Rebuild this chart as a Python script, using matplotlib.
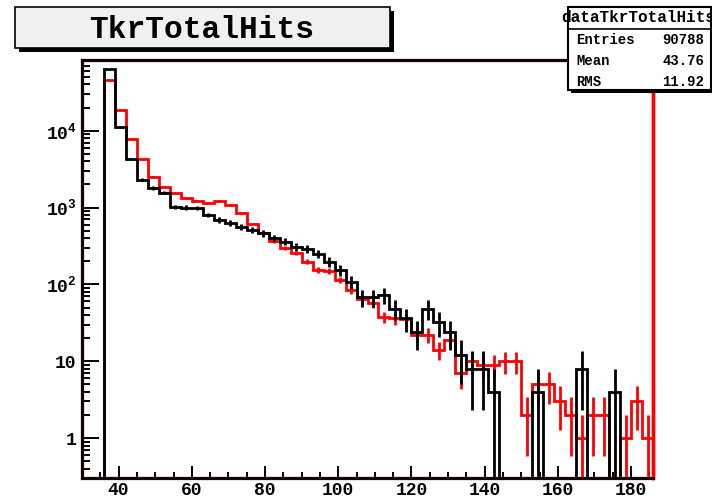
import numpy as np
import matplotlib
matplotlib.use("Agg")
import matplotlib.pyplot as plt
from matplotlib.patches import Rectangle
from matplotlib.lines import Line2D
from matplotlib.ticker import FixedLocator, FixedFormatter, NullFormatter

plt.rcParams['font.family'] = ['Liberation Mono', 'DejaVu Sans Mono']
plt.rcParams['font.weight'] = 'bold'
plt.rcParams['mathtext.fontset'] = 'custom'
plt.rcParams['mathtext.rm'] = 'Liberation Mono:bold'
plt.rcParams['mathtext.bf'] = 'Liberation Mono:bold'
plt.rcParams['mathtext.it'] = 'Liberation Mono:bold'

# ---- data ----
bin_edges = list(range(30, 187, 3))   # 52 bins of width 3 from 30 to 186

data_counts = [0, 0, 63000, 11000, 4260, 2290, 1800, 1560, 1020, 1000,
               980, 800, 690, 630, 565, 510, 460, 405, 360, 310,
               287, 250, 198, 154, 109, 68, 68, 72, 48, 36,
               24, 48, 32, 24, 12, 8, 8, 4, 0, 0,
               0, 4, 0, 0, 0, 8, 0, 0, 4, 0,
               0, 0]

mc_counts = [0, 0, 46000, 18600, 7900, 4260, 2500, 1870, 1560, 1320,
             1230, 1160, 1230, 1080, 845, 612, 463, 365, 296, 254,
             198, 155, 150, 115, 85, 64, 57, 38, 36, 35,
             22, 22, 14, 19, 7, 10, 9, 9, 10, 10,
             2, 5, 5, 3, 2, 1, 2, 2, 0, 1,
             3, 1]

data_scale = 4.0   # data entries appear weighted x4 (errors 2*sqrt(n))
mc_scale = 1.0

x_major = [40, 60, 80, 100, 120, 140, 160, 180]
y_major = [1, 10, 100, 1000, 10000]
y_major_labels = ['1', '10', r'$\mathrm{10^{2}}$', r'$\mathrm{10^{3}}$', r'$\mathrm{10^{4}}$']

title = 'TkrTotalHits'
stats_name = 'dataTkrTotalHits'
stats_rows = [('Entries', '90788'), ('Mean', '43.76'), ('RMS', '11.92')]

# ---- figure ----
W, H = 712, 499
fig = plt.figure(figsize=(W / 100, H / 100), dpi=100)

def fx(px):
    return px / W

def fy(py):
    return 1 - py / H

ax_left, ax_right, ax_top, ax_bottom = 82, 653, 60, 478.3
ax = fig.add_axes([fx(ax_left), fy(ax_bottom), (ax_right - ax_left) / W, (ax_bottom - ax_top) / H])
ax.set_yscale('log')
ax.set_xlim(bin_edges[0], bin_edges[-1])
ax.set_ylim(0.3, 8.3e4)

edges = np.array(bin_edges, float)
centers = 0.5 * (edges[:-1] + edges[1:])
floor = 1e-3

def draw_hist(vals, scale, color, z):
    v = np.array(vals, float)
    vv = np.where(v > 0, v, floor)
    ax.stairs(vv, edges, color=color, lw=2, baseline=None, zorder=z)
    err = np.sqrt(scale * v)
    m = v > 0
    lo = np.maximum(v - err, floor)
    hi = v + err
    ax.vlines(centers[m], lo[m], hi[m], color=color, lw=2, zorder=z)

draw_hist(mc_counts, mc_scale, 'red', 3)
draw_hist(data_counts, data_scale, 'black', 4)

# ticks
ax.xaxis.set_major_locator(FixedLocator(x_major))
ax.xaxis.set_minor_locator(FixedLocator([v for v in range(30, 186, 5) if v not in x_major]))
ax.yaxis.set_major_locator(FixedLocator(y_major))
ax.yaxis.set_major_formatter(FixedFormatter(y_major_labels))
yminor = [m * 10.0 ** e for e in range(-1, 5) for m in range(2, 10)]
yminor = [v for v in yminor if 0.3 <= v <= 8.3e4]
ax.yaxis.set_minor_locator(FixedLocator(yminor))
ax.yaxis.set_minor_formatter(NullFormatter())

ax.tick_params(axis='x', which='major', direction='in', length=8.5, width=1.4,
               top=False, labelsize=13, pad=3)
ax.tick_params(axis='x', which='minor', direction='in', length=4, width=1.4, top=False)
ax.tick_params(axis='y', which='major', direction='in', length=12.5, width=1.4,
               right=False, labelsize=13, pad=4)
ax.tick_params(axis='y', which='minor', direction='in', length=6, width=1.4, right=False)

for s in ['left', 'bottom', 'top']:
    ax.spines[s].set_color('black')
    ax.spines[s].set_linewidth(2.0)
    ax.spines[s].set_zorder(6)
ax.spines['right'].set_color('red')
ax.spines['right'].set_linewidth(2.5)
ax.spines['right'].set_zorder(6)
ax.add_patch(Rectangle((0, 0), 1, 1, transform=ax.transAxes, fill=False,
                       edgecolor='#cc2222', lw=2.4, zorder=5, clip_on=False))

# ---- title box ----
tx0, ty0, tx1, ty1 = 15, 6.7, 390, 48
fig.add_artist(Rectangle((fx(tx0 + 4), fy(ty1 + 4)), (tx1 - tx0) / W, (ty1 - ty0) / H,
                         transform=fig.transFigure, facecolor='black', edgecolor='black', lw=0))
fig.add_artist(Rectangle((fx(tx0), fy(ty1)), (tx1 - tx0) / W, (ty1 - ty0) / H,
                         transform=fig.transFigure, facecolor='#f0f0f0', edgecolor='black', lw=1.2))
fig.text(fx(202), fy(38.5), title, ha='center', va='baseline', fontsize=22.5,
         fontweight='bold')

# ---- stats box ----
sx0, sy0, sx1, sy1 = 568, 7, 711, 90
fig.add_artist(Rectangle((fx(sx0 + 3), fy(sy1 + 3)), (sx1 - sx0) / W, (sy1 - sy0) / H,
                         transform=fig.transFigure, facecolor='black', edgecolor='black', lw=0))
fig.add_artist(Rectangle((fx(sx0), fy(sy1)), (sx1 - sx0) / W, (sy1 - sy0) / H,
                         transform=fig.transFigure, facecolor='white', edgecolor='black', lw=1.5))
fig.add_artist(Line2D([fx(sx0), fx(sx1)], [fy(29), fy(29)], transform=fig.transFigure,
                      color='black', lw=1.2))
fig.text(fx(638), fy(18), stats_name, ha='center', va='center', fontsize=11.5,
         fontweight='bold')
for i, (lab, val) in enumerate(stats_rows):
    yy = 40 + 21 * i
    fig.text(fx(576), fy(yy), lab, ha='left', va='center', fontsize=10, fontweight='bold')
    fig.text(fx(704), fy(yy), val, ha='right', va='center', fontsize=10, fontweight='bold')

fig.savefig('out.png', dpi=100)
